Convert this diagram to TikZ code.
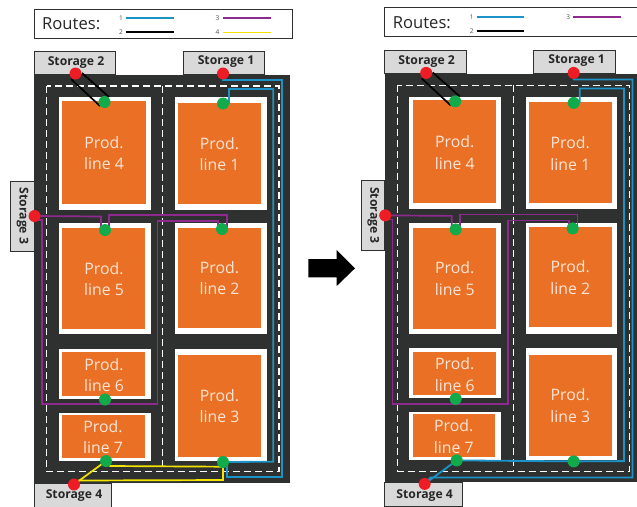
\documentclass[tikz,border=0pt]{standalone}
\usepackage{fontspec}
\setmainfont{Open Sans}
\usetikzlibrary{backgrounds}
\pgfdeclarelayer{base}
\pgfdeclarelayer{routes}
\pgfsetlayers{base,routes,main}
\definecolor{road}{HTML}{2F3130}
\definecolor{prod}{HTML}{E97025}
\definecolor{dotg}{HTML}{12AB4B}
\definecolor{dotr}{HTML}{EE1C25}
\definecolor{rblue}{HTML}{1B93C6}
\definecolor{rpurple}{HTML}{8E2A8E}
\definecolor{ryellow}{HTML}{F2E400}
\definecolor{cream}{HTML}{FBE6D8}
\definecolor{stor}{HTML}{D9D9D9}
\tikzset{
  rone/.style={draw=rblue,line width=1.8pt},
  rtwo/.style={draw=black,line width=1.7pt},
  rthree/.style={draw=rpurple,line width=1.7pt},
  rfour/.style={draw=ryellow,line width=1.7pt},
  dotgreen/.style={circle,fill=dotg,minimum size=12pt,inner sep=0pt},
  dotred/.style={circle,fill=dotr,minimum size=12pt,inner sep=0pt},
  wbox/.style={fill=white,draw=none},
  obox/.style={fill=prod,draw=none},
  plabel/.style={align=center,text=cream,inner sep=0pt,font=\fontsize{15.8}{21.5}\selectfont},
  storebox/.style={fill=stor,draw=road,line width=1pt,inner sep=0pt},
  storetext/.style={inner sep=0pt,font=\fontsize{12.2}{13}\selectfont\bfseries,text=black!85},
  legbox/.style={fill=white,draw=road,line width=1pt},
  legnum/.style={inner sep=0pt,font=\fontsize{6.5}{8}\selectfont,text=black!70},
  legtitle/.style={inner sep=0pt,anchor=west,font=\fontsize{16.6}{18}\selectfont,text=black!85},
  lane/.style={draw=white,line width=1.1pt,dash pattern=on 7pt off 4pt},
}
% #1 name prefix
\newcommand{\panelbody}[1]{%
  \begin{pgfonlayer}{base}
    \fill[road] (34,75) rectangle (290,482.5);
    \draw[storebox] (34,51) rectangle (115.5,74);
    \draw[storebox] (183,51) rectangle (264.5,74);
    \draw[storebox] (10.5,181) rectangle (34,251);
    \draw[storebox] (34,483) rectangle (111.5,507);
    \draw[lane] (46.5,86) rectangle (279,471.7);
    \draw[lane] (162.5,86) -- (162.5,471.7);
    \fill[wbox] (58.7,97.3) rectangle (150.7,210);
    \fill[obox] (62.3,100.7) rectangle (145.7,204);
    \fill[wbox] (175,97.3) rectangle (266.7,210);
    \fill[obox] (178.3,102.7) rectangle (261,204);
    \fill[wbox] (58.7,223.3) rectangle (150.7,334.3);
    \fill[obox] (62.3,228.3) rectangle (145,329.3);
    \fill[wbox] (175,223.3) rectangle (266.7,334.3);
    \fill[obox] (178.3,227.7) rectangle (261,328);
    \fill[wbox] (58.7,349) rectangle (150.7,399);
    \fill[obox] (62.3,352.3) rectangle (145,396);
    \fill[wbox] (58.7,412.7) rectangle (150.7,460.7);
    \fill[obox] (62.3,414.7) rectangle (144.7,457.7);
    \fill[wbox] (175,349) rectangle (266.7,460.7);
    \fill[obox] (178.3,355.3) rectangle (261,456.7);
  \end{pgfonlayer}
  \node[plabel] (#1l4) at (104,153) {Prod.\\line 4};
  \node[plabel] (#1l1) at (219.5,154) {Prod.\\line 1};
  \node[plabel] (#1l5) at (104,279) {Prod.\\line 5};
  \node[plabel] (#1l2) at (219.5,278) {Prod.\\line 2};
  \node[plabel] (#1l6) at (104,375) {Prod.\\line 6};
  \node[plabel] (#1l7) at (103,437) {Prod.\\line 7};
  \node[plabel] (#1l3) at (219.5,406) {Prod.\\line 3};
  \node[storetext] (#1t2) at (76,62.5) {Storage 2};
  \node[storetext] (#1t1) at (226,61.5) {Storage 1};
  \node[storetext,rotate=-90] (#1t3) at (22.5,216) {Storage 3};
  \node[storetext] (#1t4) at (74,496) {Storage 4};
  \node[dotred] (#1s2) at (75.5,73.5) {};
  \node[dotred] (#1s1) at (223,73.5) {};
  \node[dotred] (#1s3) at (34.5,216) {};
  \node[dotred] (#1s4) at (74,484.5) {};
  \node[dotgreen] (#1p4) at (104.5,102) {};
  \node[dotgreen] (#1p1) at (223,103.5) {};
  \node[dotgreen] (#1p5) at (105,230) {};
  \node[dotgreen] (#1p2) at (222,229) {};
  \node[dotgreen] (#1p6) at (105,399.5) {};
  \node[dotgreen] (#1p7) at (106,461) {};
  \node[dotgreen] (#1p3) at (223,462) {};
  \begin{pgfonlayer}{routes}
    \draw[rtwo] ([shift={(6.5,-0.5)}]#1s2.center) -- ([shift={(4.5,-5)}]#1p4.center);
    \draw[rtwo] ([shift={(-4.5,5.5)}]#1s2.center) -- ([shift={(-4.5,4)}]#1p4.center);
    \draw[rthree] (#1s3.center) -- (101,216.5) |- (#1p5.center);
    \draw[rthree] (#1p5.center) -| (109,215) -| (226.7,229) -- (#1p2.center);
    \draw[rthree] (#1p2.center) -| (218,221) -| (157.5,404.3) -| (41.7,220) -- ([yshift=-4pt]#1s3.center);
  \end{pgfonlayer}
}
\begin{document}
\begin{tikzpicture}[x=1pt,y=-1pt]
\useasboundingbox (0,0) rectangle (637,506);
\clip (0,0) rectangle (637,506);
\begin{scope}
  \draw[legbox] (34,9) rectangle (292,38);
  \node[legtitle] (lt) at (42,24) {Routes:};
  \node[legnum] (n1) at (121,18) {1};
  \node[legnum] (n2) at (121,32) {2};
  \node[legnum] (n3) at (217.5,18) {3};
  \node[legnum] (n4) at (217.5,32.5) {4};
  \coordinate (e1) at (173.5,18);
  \coordinate (e2) at (173.5,32);
  \coordinate (e3) at (270.5,18);
  \coordinate (e4) at (270.5,32.5);
  \draw[rone] (n1.east) ++(3,0) -- (e1);
  \draw[rtwo] (n2.east) ++(3,0) -- (e2);
  \draw[rthree] (n3.east) ++(3,0) -- (e3);
  \draw[rfour] (n4.east) ++(3,0) -- (e4);
  \panelbody{L}
  \begin{pgfonlayer}{routes}
    \draw[rone] (Ls1.center) |- (281.8,80) |- (227,477) |- (Lp3.center);
    \draw[rone] (229,103.5) -- (229,89) -| (273.3,461.7) -- (Lp3.center);
    \draw[rfour] (Ls4.center) -- (Lp7.center);
    \draw[rfour] (Lp7.center) -- (110,466) -- (223,466.7) -- (Lp3.center);
    \draw[rfour] (Lp3.center) -- (223,480) -- ([shift={(4,-4)}]Ls4.center);
  \end{pgfonlayer}
\end{scope}
\begin{scope}[xshift=350.7pt,yshift=0.6pt]
  \draw[legbox] (34,8.5) rectangle (300,37.5);
  \node[legtitle] (rt) at (42,23.5) {Routes:};
  \node[legnum] (m1) at (121,17.5) {1};
  \node[legnum] (m2) at (121,31.5) {2};
  \node[legnum] (m3) at (217.5,17.5) {3};
  \coordinate (f1) at (173.5,17.5);
  \coordinate (f2) at (173.5,31.5);
  \coordinate (f3) at (270.5,17.5);
  \draw[rone] (m1.east) ++(3,0) -- (f1);
  \draw[rtwo] (m2.east) ++(3,0) -- (f2);
  \draw[rthree] (m3.east) ++(3,0) -- (f3);
  \panelbody{R}
  \begin{pgfonlayer}{routes}
    \draw[rone] (Rs1.center) |- (281.8,80) |- (80,478) -- (Rs4.center);
    \draw[rone] (229,103.5) -- (229,89) -| (273.3,461.7) -- (Rp3.center) -- (Rp7.center) -- (Rs4.center);
  \end{pgfonlayer}
\end{scope}
\fill[black] (308.3,259) -- (336.7,259) -- (336.7,250) -- (355,268.3) -- (336.7,286) -- (336.7,277.3) -- (308.3,277.3) -- cycle;
\end{tikzpicture}
\end{document}
